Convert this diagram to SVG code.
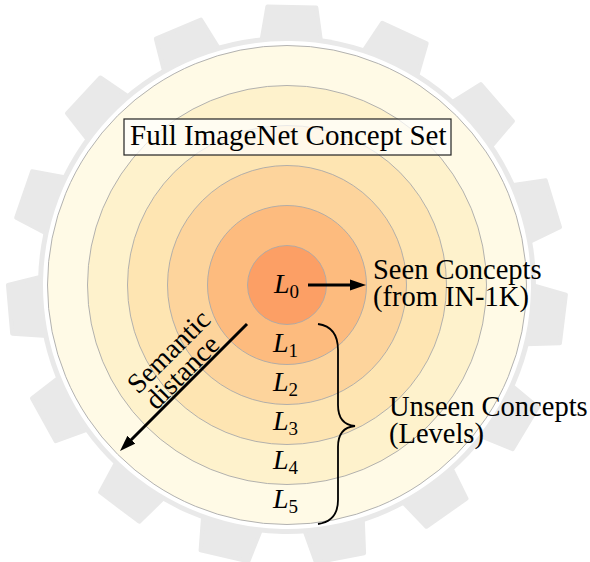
<svg xmlns="http://www.w3.org/2000/svg" width="590" height="562" viewBox="0 0 590 562">
<style>
 .t{font-family:"Liberation Serif","Times New Roman",serif;fill:#000}
 .ring{stroke:#a9a9a9;stroke-width:0.9}
 .tooth{fill:#e9e9e9;stroke:#e9e9e9;stroke-width:4;stroke-linejoin:round}
 .conn{stroke:#000;stroke-width:3;fill:none}
 .brace{stroke:#000;stroke-width:1.8;fill:none}
 .big{font-size:28.5px}
 .lab{font-size:28px}
 .it{font-style:italic}
 .sub{font-size:19px;font-style:normal}
</style>
<defs>
 <path id="tooth" class="tooth" d="M-31,-236 L-24.5,-278 L24.5,-278 L31,-236 Z"/>
 <marker id="ah" markerUnits="userSpaceOnUse" markerWidth="18" markerHeight="12" refX="4" refY="6" orient="auto">
  <path d="M0,0.5 L16,6 L0,11.5 Z" fill="#000"/>
 </marker>
</defs>
<rect width="590" height="562" fill="#fff"/>
<g id="gear" transform="translate(287,285) rotate(1)">
 <circle r="249" fill="#e9e9e9"/>
 <use href="#tooth" transform="rotate(0)"/>
 <use href="#tooth" transform="rotate(24)"/>
 <use href="#tooth" transform="rotate(48)"/>
 <use href="#tooth" transform="rotate(72)"/>
 <use href="#tooth" transform="rotate(96)"/>
 <use href="#tooth" transform="rotate(120)"/>
 <use href="#tooth" transform="rotate(144)"/>
 <use href="#tooth" transform="rotate(168)"/>
 <use href="#tooth" transform="rotate(192)"/>
 <use href="#tooth" transform="rotate(216)"/>
 <use href="#tooth" transform="rotate(240)"/>
 <use href="#tooth" transform="rotate(264)"/>
 <use href="#tooth" transform="rotate(288)"/>
 <use href="#tooth" transform="rotate(312)"/>
 <use href="#tooth" transform="rotate(336)"/>
 <circle r="244" fill="#fff"/>
</g>
<g id="rings" transform="translate(287,285)">
 <circle class="ring" r="239.5" fill="#fffae6"/>
 <circle class="ring" r="199.5" fill="#fef2cc"/>
 <circle class="ring" r="159.5" fill="#fee5b2"/>
 <circle class="ring" r="119.5" fill="#fdd49c"/>
 <circle class="ring" r="79.5" fill="#fdbb7e"/>
 <circle class="ring" r="39.5" fill="#fc9f65"/>
</g>
<g id="title">
 <rect x="124" y="119" width="327" height="36" fill="#fff" fill-opacity="0.72" stroke="#222" stroke-width="1.2"/>
 <text class="t" x="130" y="145" font-size="29">Full ImageNet Concept Set</text>
</g>
<g id="L0"><text class="t lab" x="274" y="293"><tspan class="it">L</tspan><tspan class="sub" dy="5">0</tspan></text></g>
<g id="L1"><text class="t lab" x="273" y="352"><tspan class="it">L</tspan><tspan class="sub" dy="5">1</tspan></text></g>
<g id="L2"><text class="t lab" x="273" y="391"><tspan class="it">L</tspan><tspan class="sub" dy="5">2</tspan></text></g>
<g id="L3"><text class="t lab" x="273" y="430"><tspan class="it">L</tspan><tspan class="sub" dy="5">3</tspan></text></g>
<g id="L4"><text class="t lab" x="273" y="469"><tspan class="it">L</tspan><tspan class="sub" dy="5">4</tspan></text></g>
<g id="L5"><text class="t lab" x="273" y="508"><tspan class="it">L</tspan><tspan class="sub" dy="5">5</tspan></text></g>
<g id="seen">
 <text class="t big"><tspan x="373" y="279">Seen Concepts</tspan><tspan x="373" y="306">(from IN-1K)</tspan></text>
</g>
<g id="unseen">
 <text class="t big"><tspan x="389" y="416">Unseen Concepts</tspan><tspan x="389" y="443">(Levels)</tspan></text>
</g>
<g id="semantic" transform="translate(175.5,362) rotate(-45)">
 <text class="t" font-size="28" text-anchor="middle"><tspan x="2.5" y="-3">Semantic</tspan><tspan x="-2.5" y="21">distance</tspan></text>
</g>
<g id="connectors">
 <line class="conn" x1="308" y1="285" x2="354" y2="285" marker-end="url(#ah)"/>
 <line class="conn" x1="247" y1="324" x2="128.5" y2="442.5" marker-end="url(#ah)"/>
 <path class="brace" d="M318,324 C332,326 338,336 338,350 L338,405 C338,418 344,425 355,426 C344,427 338,434 338,447 L338,500 C338,514 332,522 318,524"/>
</g>
</svg>
